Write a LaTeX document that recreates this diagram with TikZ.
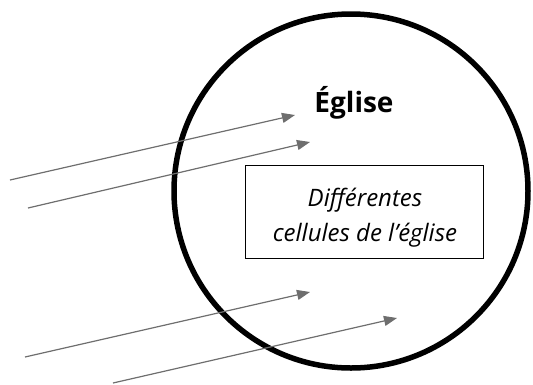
\documentclass[tikz,border=0pt]{standalone}
\usepackage{fontspec}
\setmainfont{Open Sans}
\usetikzlibrary{arrows.meta}
\definecolor{arrgray}{HTML}{6E6E6E}
\begin{document}
\begin{tikzpicture}[x=1pt,y=-1pt,
  ray/.style={draw=arrgray,line width=1.2pt,-{Triangle[length=13pt,width=10pt]}},
  cellbox/.style={draw=black,line width=0.9pt,minimum width=238pt,minimum height=93pt,inner sep=0pt},
  title/.style={font=\bfseries\fontsize{28}{32}\selectfont},
  celltext/.style={font=\itshape\fontsize{24}{35}\selectfont,align=center}]
\useasboundingbox (0,0) rectangle (533,384);
\node[draw=black,line width=5.5pt,circle,minimum size=354pt,inner sep=0pt] (church) at (351,191) {};
\node[title] (label) at (354,103) {Église};
\node[cellbox] (cells) at (364,211.5) {};
\node[celltext] (celltxt) at (365,218) {Différentes\\cellules de l’église};
\coordinate (s1) at (10,180); \coordinate (t1) at (295,115);
\coordinate (s2) at (28,208); \coordinate (t2) at (310,142);
\coordinate (s3) at (25,357); \coordinate (t3) at (310,292);
\coordinate (s4) at (113,383); \coordinate (t4) at (397,318);
\draw[ray] (s1) -- (t1);
\draw[ray] (s2) -- (t2);
\draw[ray] (s3) -- (t3);
\draw[ray] (s4) -- (t4);
\end{tikzpicture}
\end{document}
